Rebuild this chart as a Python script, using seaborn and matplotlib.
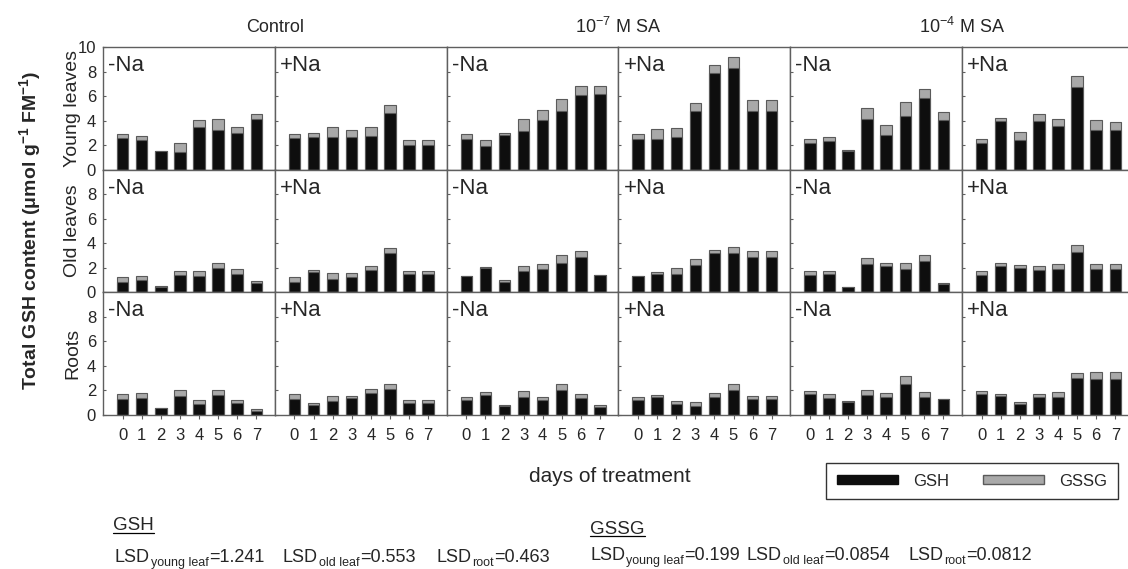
import matplotlib
matplotlib.use('Agg')
import matplotlib.pyplot as plt
from matplotlib.patches import Patch
from matplotlib.lines import Line2D
import pandas as pd
import seaborn as sns

# dados (umol/g FM)
days = [0, 1, 2, 3, 4, 5, 6, 7]
treatments = ['Control', '10$^{-7}$ M SA', '10$^{-4}$ M SA']
na_labels = ['-Na', '+Na']
tissues = ['Young leaves', 'Old leaves', 'Roots']

# colunas: control -Na, control +Na, 10-7 -Na, 10-7 +Na, 10-4 -Na, 10-4 +Na
young_gsh = [
    [2.6, 2.4, 1.5, 1.4, 3.45, 3.25, 3.0, 4.1],
    [2.6, 2.65, 2.7, 2.7, 2.75, 4.65, 2.0, 2.0],
    [2.5, 1.9, 2.8, 3.15, 4.05, 4.8, 6.05, 6.2],
    [2.5, 2.5, 2.7, 4.75, 7.9, 8.3, 4.75, 4.75],
    [2.15, 2.3, 1.5, 4.15, 2.8, 4.35, 5.85, 4.05],
    [2.15, 3.95, 2.45, 3.95, 3.55, 6.75, 3.25, 3.2],
]
young_gssg = [
    [0.3, 0.35, 0.03, 0.8, 0.6, 0.85, 0.5, 0.4],
    [0.3, 0.3, 0.75, 0.5, 0.75, 0.6, 0.45, 0.45],
    [0.4, 0.5, 0.15, 0.95, 0.85, 1.0, 0.75, 0.65],
    [0.4, 0.8, 0.7, 0.7, 0.6, 0.9, 0.95, 0.95],
    [0.35, 0.35, 0.1, 0.85, 0.85, 1.2, 0.75, 0.65],
    [0.35, 0.3, 0.65, 0.6, 0.55, 0.85, 0.8, 0.7],
]
old_gsh = [
    [0.87, 1.03, 0.46, 1.41, 1.36, 1.96, 1.47, 0.73],
    [0.87, 1.69, 1.12, 1.28, 1.8, 3.24, 1.47, 1.47],
    [1.33, 2.01, 0.87, 1.77, 1.88, 2.37, 2.91, 1.39],
    [1.33, 1.5, 1.5, 2.2, 3.24, 3.24, 2.86, 2.86],
    [1.44, 1.47, 0.41, 2.34, 2.18, 1.93, 2.59, 0.65],
    [1.44, 2.18, 2.01, 1.82, 1.93, 3.32, 1.93, 1.93],
]
old_gssg = [
    [0.35, 0.3, 0.03, 0.36, 0.41, 0.41, 0.41, 0.22],
    [0.35, 0.13, 0.43, 0.3, 0.32, 0.41, 0.3, 0.3],
    [0.02, 0.02, 0.16, 0.41, 0.41, 0.68, 0.49, 0.05],
    [0.02, 0.19, 0.46, 0.52, 0.22, 0.49, 0.49, 0.49],
    [0.27, 0.27, 0.02, 0.46, 0.19, 0.44, 0.43, 0.14],
    [0.27, 0.19, 0.19, 0.3, 0.38, 0.57, 0.38, 0.38],
]
root_gsh = [
    [1.28, 1.39, 0.57, 1.56, 0.93, 1.67, 1.01, 0.36],
    [1.28, 0.79, 1.15, 1.39, 1.83, 2.13, 0.96, 0.96],
    [1.2, 1.61, 0.77, 1.5, 1.23, 2.0, 1.42, 0.68],
    [1.2, 1.48, 0.93, 0.74, 1.5, 2.05, 1.31, 1.31],
    [1.72, 1.42, 1.09, 1.67, 1.5, 2.51, 1.5, 1.28],
    [1.72, 1.56, 0.93, 1.45, 1.5, 3.0, 2.92, 2.92],
]
root_gssg = [
    [0.41, 0.39, 0.03, 0.49, 0.27, 0.38, 0.19, 0.13],
    [0.41, 0.19, 0.41, 0.19, 0.33, 0.36, 0.3, 0.3],
    [0.3, 0.25, 0.08, 0.44, 0.27, 0.49, 0.27, 0.14],
    [0.3, 0.13, 0.22, 0.35, 0.33, 0.44, 0.25, 0.25],
    [0.27, 0.27, 0.02, 0.38, 0.28, 0.69, 0.39, 0.02],
    [0.27, 0.16, 0.16, 0.24, 0.39, 0.42, 0.6, 0.6],
]

lsd_parts = ['young leaf', 'old leaf', 'root']
lsd_gsh = ['1.241', '0.553', '0.463']
lsd_gssg = ['0.199', '0.0854', '0.0812']

gsh_rows = [young_gsh, old_gsh, root_gsh]
gssg_rows = [young_gssg, old_gssg, root_gssg]

sns.set_style('white')
plt.rcParams['font.family'] = ['Liberation Sans', 'DejaVu Sans']
plt.rcParams['mathtext.fontset'] = 'custom'
plt.rcParams['mathtext.rm'] = 'Liberation Sans'
plt.rcParams['mathtext.it'] = 'Liberation Sans:italic'
plt.rcParams['mathtext.bf'] = 'Liberation Sans:bold'

cor_gsh = '#0e0e0e'
cor_gssg = '#a9a9a9'
cor_borda = '#5a5a5a'

W, H = 1128, 569
fig = plt.figure(figsize=(W / 100, H / 100), dpi=100)

x0 = 103 / W
pw = 171.8 / W
top = 47
ph = 122.67

for i in range(3):
    for j in range(6):
        b = 1 - (top + (i + 1) * ph) / H
        ax = fig.add_axes([x0 + j * pw, b, pw, ph / H])
        gsh = gsh_rows[i][j]
        gssg = gssg_rows[i][j]
        df = pd.DataFrame({'day': days, 'GSH': gsh,
                           'total': [g + s for g, s in zip(gsh, gssg)]})
        sns.barplot(data=df, x='day', y='total', color=cor_gssg, saturation=1,
                    width=0.6, edgecolor=cor_borda, linewidth=0.8, ax=ax)
        sns.barplot(data=df, x='day', y='GSH', color=cor_gsh, saturation=1,
                    width=0.6, edgecolor=cor_borda, linewidth=0.8, ax=ax)
        ax.set_xlim(-1.03, 7.97)
        ax.set_ylim(0, 10)
        ax.set_xlabel('')
        ax.set_ylabel('')
        for s in ax.spines.values():
            s.set_color('#5f5f5f')
            s.set_linewidth(1.0)
        if j == 0:
            ax.set_yticks([0, 2, 4, 6, 8, 10] if i == 0 else [0, 2, 4, 6, 8])
            ax.tick_params(axis='y', left=True, direction='in', length=2,
                           labelsize=12, pad=5, color='#5f5f5f')
        else:
            ax.set_yticks([0, 2, 4, 6, 8])
            ax.tick_params(axis='y', left=True, direction='in', length=2,
                           labelleft=False, color='#5f5f5f')
        if i == 2:
            ax.set_xticks(range(len(days)))
            ax.set_xticklabels([str(d) for d in days])
            ax.tick_params(axis='x', bottom=True, direction='out', length=3,
                           labelsize=12, pad=6, color='#5f5f5f')
        else:
            ax.set_xticks([])
        ax.text(0.03, 0.935, na_labels[j % 2], transform=ax.transAxes,
                fontsize=16, va='top', ha='left')
        if j == 0:
            ax.text(-0.175, 0.5, tissues[i], transform=ax.transAxes,
                    rotation=90, fontsize=14, va='center', ha='center')

# titulos das colunas
for k, t in enumerate(treatments):
    fig.text(x0 + (2 * k + 1) * pw, 1 - 27 / H, t, fontsize=13,
             ha='center', va='center')

fig.text(30 / W, 1 - 230 / H,
         r'Total GSH content ($\mathbf{\mu}$mol g$^{\mathbf{-1}}$ FM$^{\mathbf{-1}}$)',
         rotation=90, fontsize=14, fontweight='bold', ha='center', va='center')
fig.text(610 / W, 1 - 476 / H, 'days of treatment', fontsize=15,
         ha='center', va='center')

handles = [Patch(facecolor=cor_gsh, edgecolor=cor_gsh),
           Patch(facecolor=cor_gssg, edgecolor=cor_borda)]
leg = fig.legend(handles, ['GSH', 'GSSG'], loc='center',
                 bbox_to_anchor=(972 / W, 1 - 481 / H), ncol=2,
                 fontsize=12, frameon=True, fancybox=False,
                 handlelength=3.7, handleheight=0.45, columnspacing=2.0,
                 borderpad=0.65, handletextpad=0.9)
leg.get_frame().set_edgecolor('black')
leg.get_frame().set_linewidth(1.0)

# textos de LSD
r = fig.canvas.get_renderer()
inv = fig.transFigure.inverted()


def largura(t):
    bb = t.get_window_extent(r)
    return bb.x1


def lsd(xpix, ybase, sub, val):
    t1 = fig.text(xpix / W, 1 - ybase / H, 'LSD', fontsize=13, va='baseline')
    xs = largura(t1) + 1
    t2 = fig.text(xs / W, 1 - (ybase + 4) / H, sub, fontsize=9, va='baseline')
    xv = largura(t2) + 0.5
    fig.text(xv / W, 1 - ybase / H, '=' + val, fontsize=13, va='baseline')


for xx, p, v in zip([115, 283, 436], lsd_parts, lsd_gsh):
    lsd(xx, 562, p, v)
for xx, p, v in zip([590, 747, 908], lsd_parts, lsd_gssg):
    lsd(xx, 560, p, v)

titulos = [fig.text(113 / W, 1 - 526 / H, 'GSH', fontsize=13.5,
                    ha='left', va='center'),
           fig.text(590 / W, 1 - 529 / H, 'GSSG', fontsize=13.5,
                    ha='left', va='center')]
for t in titulos:
    bb = t.get_window_extent(r)
    (xa, ya), (xb, yb2) = inv.transform([[bb.x0, bb.y0], [bb.x1, bb.y1]])
    fig.add_artist(Line2D([xa, xb], [ya + 0.002, ya + 0.002],
                          color='black', linewidth=0.9,
                          transform=fig.transFigure))

fig.savefig('out.png', dpi=100)
